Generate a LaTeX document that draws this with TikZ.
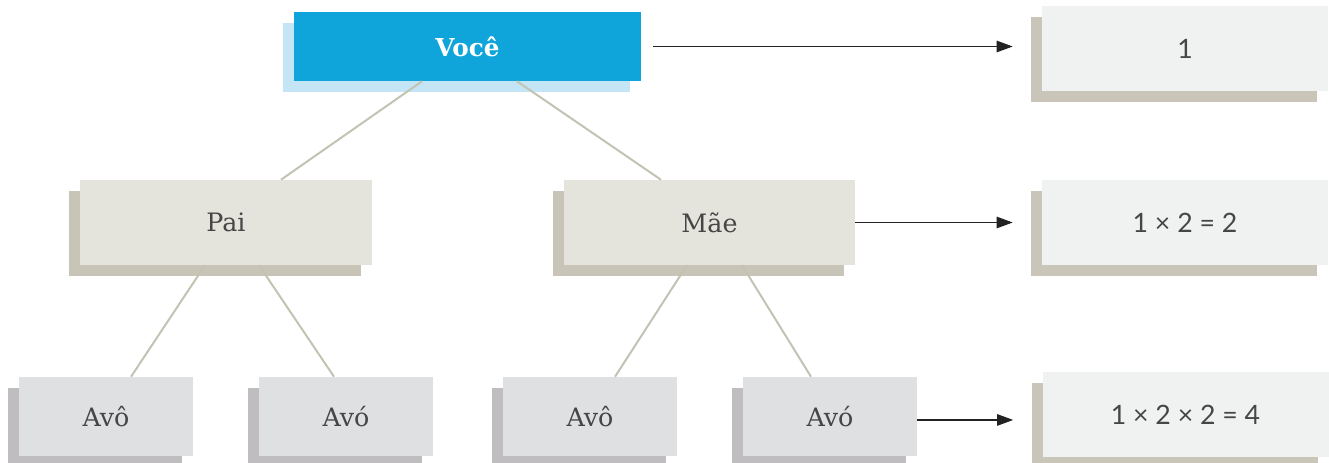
\documentclass[tikz,border=0pt]{standalone}
\usepackage{fontspec}
\setmainfont{DejaVu Serif}
\newfontfamily\numfont{Lato}
\usetikzlibrary{arrows.meta,shadows}

\definecolor{vocefill}{HTML}{0FA5DA}
\definecolor{voceshadow}{HTML}{C4E5F6}
\definecolor{paifill}{HTML}{E4E3DC}
\definecolor{paishadow}{HTML}{C8C4B8}
\definecolor{avofill}{HTML}{DFE0E2}
\definecolor{avoshadow}{HTML}{BFBDBF}
\definecolor{numfill}{HTML}{F0F2F1}
\definecolor{numshadow}{HTML}{C9C5B9}
\definecolor{linha}{HTML}{C2C3B3}
\definecolor{texto}{HTML}{464646}
\definecolor{setacor}{HTML}{222222}

\tikzset{
  sombra/.style={drop shadow={shadow xshift=-8.25pt, shadow yshift=-8.25pt, fill=#1, opacity=1}},
  pessoa/.style={rectangle, inner sep=0pt, minimum width=292*0.75pt, minimum height=85*0.75pt,
    text=texto, font=\fontsize{19}{23}\selectfont},
  vocebox/.style={pessoa, minimum width=347*0.75pt, minimum height=69*0.75pt, fill=vocefill,
    sombra=voceshadow, text=white, font=\fontsize{18.5}{22}\selectfont\bfseries},
  paisbox/.style={pessoa, fill=paifill, sombra=paishadow},
  avosbox/.style={pessoa, minimum width=174*0.75pt, minimum height=79*0.75pt, fill=avofill, sombra=avoshadow},
  contabox/.style={pessoa, minimum width=286*0.75pt, fill=numfill, sombra=numshadow,
    font=\numfont\fontsize{20}{24}\selectfont},
  ramo/.style={draw=linha, line width=1.5pt},
  seta/.style={-{Triangle[length=12pt,width=8.5pt]}, line width=1.1pt, draw=setacor, fill=setacor}
}

\begin{document}
\begin{tikzpicture}[x=0.75pt,y=-0.75pt]
  \useasboundingbox (0,0) rectangle (1329,463);

  % generations
  \node[vocebox] (voce) at (467.5,46.5) {Você};

  \node[paisbox] (pai) at (226,222.5) {Pai};
  \node[paisbox, minimum width=291*0.75pt] (mae) at (709.5,222.5) {Mãe};

  \node[avosbox] (avo1) at (106,416.5) {Avô};
  \node[avosbox] (avo2) at (346,416.5) {Avó};
  \node[avosbox] (avo3) at (590,416.5) {Avô};
  \node[avosbox] (avo4) at (830,416.5) {Avó};

  % counts
  \node[contabox] (conta1) at (1185,48.5) {1};
  \node[contabox] (conta2) at (1185,222.5) {1 × 2 = 2};
  \node[contabox] (conta3) at (1185.5,414.5) {1 × 2 × 2 = 4};

  % branches
  \draw[ramo] ([xshift=-34.1pt]voce.south) -- ([xshift=41.25pt]pai.north);
  \draw[ramo] ([xshift=37.1pt]voce.south) -- ([xshift=-36.4pt]mae.north);
  \draw[ramo] ([xshift=-15.75pt]pai.south) -- ([xshift=18.75pt]avo1.north);
  \draw[ramo] ([xshift=24.75pt]pai.south) -- ([xshift=-9pt]avo2.north);
  \draw[ramo] ([xshift=-16.9pt]mae.south) -- ([xshift=18.75pt]avo3.north);
  \draw[ramo] ([xshift=24.4pt]mae.south) -- ([xshift=-14.25pt]avo4.north);

  % arrows
  \coordinate (avosaida) at ([yshift=-2.6pt]avo4.east);
  \draw[seta, shorten <=9pt, shorten >=21.75pt] (voce.east) -- (conta1.west |- voce.east);
  \draw[seta, shorten >=21.75pt] (mae.east) -- (conta2.west |- mae.east);
  \draw[seta, shorten >=21.75pt] (avosaida) -- (conta3.west |- avosaida);
\end{tikzpicture}
\end{document}
